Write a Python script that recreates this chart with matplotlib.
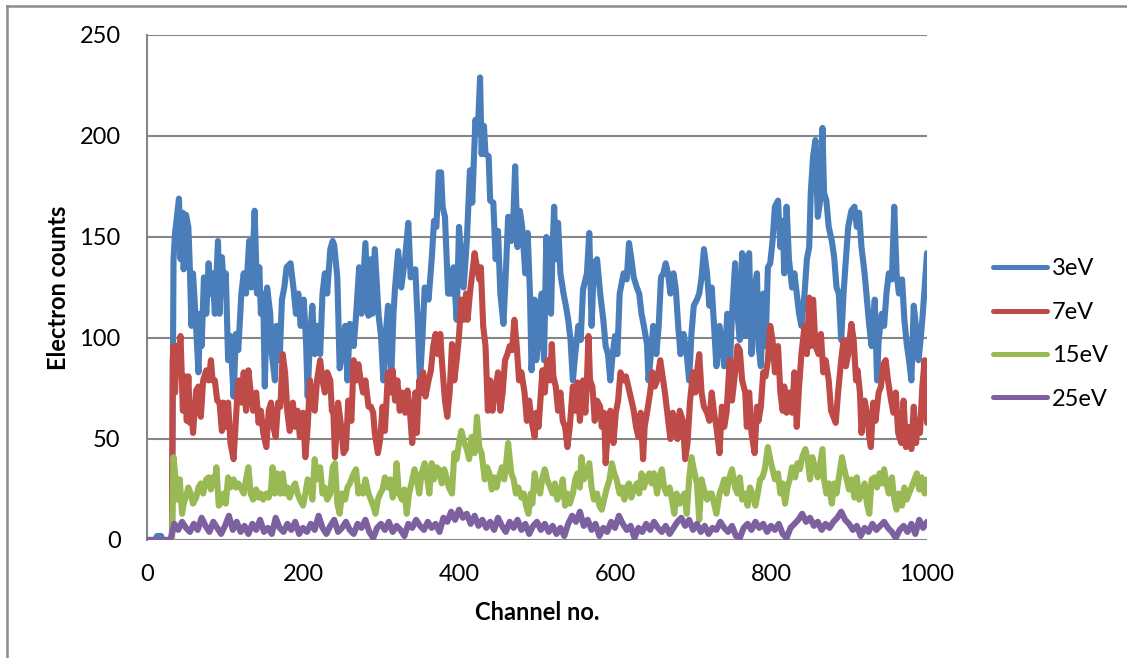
import numpy as np
import matplotlib
matplotlib.use("Agg")
import matplotlib.pyplot as plt
from matplotlib.lines import Line2D

# (channel, counts), one list per beam energy
ev3_points = [
    (0, 0), (10, 0), (13, 2), (18, 2), (20, 0), (32, 0), (34, 139), (36, 152), (41, 169), (43, 139),
    (46, 162), (47, 134), (50, 161), (53, 155), (55, 134), (57, 106), (59, 132), (62, 112), (66, 83), (68, 112),
    (70, 96), (73, 130), (76, 112), (79, 137), (82, 122), (84, 132), (87, 112), (91, 148), (93, 112), (96, 140),
    (99, 122), (101, 132), (104, 89), (107, 101), (111, 71), (114, 102), (117, 94), (121, 122), (124, 132), (127, 122),
    (131, 148), (134, 125), (138, 163), (141, 122), (144, 135), (146, 112), (149, 122), (151, 76), (154, 125), (158, 112),
    (160, 92), (164, 79), (166, 106), (170, 89), (173, 119), (176, 125), (179, 135), (184, 137), (188, 124), (191, 112),
    (194, 122), (197, 106), (201, 119), (204, 97), (206, 71), (209, 101), (212, 116), (215, 92), (218, 106), (222, 92),
    (225, 122), (228, 132), (231, 122), (235, 144), (238, 148), (240, 146), (244, 130), (247, 85), (250, 92), (254, 106),
    (257, 79), (260, 107), (265, 96), (268, 111), (272, 135), (275, 112), (280, 147), (284, 111), (287, 139), (289, 112),
    (292, 144), (297, 111), (300, 101), (303, 79), (306, 101), (309, 116), (313, 79), (316, 112), (318, 125), (322, 143),
    (326, 125), (331, 140), (335, 157), (338, 130), (344, 134), (347, 109), (350, 79), (353, 99), (356, 125), (361, 119),
    (365, 139), (368, 158), (371, 155), (374, 182), (377, 182), (379, 165), (382, 160), (386, 122), (390, 122), (393, 135),
    (397, 109), (400, 155), (403, 140), (406, 125), (410, 148), (414, 183), (417, 167), (421, 208), (424, 201), (427, 229),
    (429, 191), (432, 205), (434, 191), (438, 190), (440, 168), (444, 167), (447, 139), (450, 153), (453, 122), (457, 107),
    (460, 132), (463, 160), (467, 148), (470, 163), (472, 185), (475, 145), (478, 163), (481, 155), (485, 132), (488, 152),
    (491, 122), (493, 84), (497, 119), (499, 89), (502, 99), (506, 122), (509, 89), (512, 150), (515, 132), (518, 112),
    (520, 145), (522, 165), (524, 139), (527, 157), (530, 132), (534, 122), (537, 116), (540, 109), (543, 99), (546, 79),
    (549, 92), (553, 106), (556, 99), (559, 124), (564, 132), (567, 152), (570, 106), (573, 137), (577, 139), (581, 122),
    (585, 109), (588, 96), (591, 92), (594, 79), (597, 92), (600, 101), (603, 92), (606, 122), (611, 132), (615, 129),
    (618, 147), (621, 139), (624, 130), (628, 125), (631, 122), (634, 112), (637, 106), (641, 97), (643, 79), (646, 92),
    (649, 106), (653, 92), (656, 106), (659, 130), (662, 132), (665, 137), (668, 132), (671, 122), (675, 132), (678, 124),
    (681, 106), (684, 92), (688, 102), (692, 92), (695, 79), (698, 102), (701, 116), (705, 119), (708, 122), (711, 130),
    (714, 144), (718, 132), (721, 116), (724, 125), (727, 106), (730, 86), (734, 106), (737, 96), (740, 86), (744, 112),
    (747, 84), (750, 111), (754, 137), (757, 112), (760, 99), (763, 142), (767, 101), (769, 139), (772, 142), (775, 92),
    (779, 125), (782, 132), (784, 96), (787, 86), (790, 122), (793, 96), (796, 135), (799, 137), (802, 148), (805, 165),
    (809, 168), (812, 145), (815, 158), (817, 132), (820, 165), (823, 139), (827, 125), (830, 132), (833, 122), (836, 112),
    (839, 106), (843, 122), (846, 139), (849, 145), (851, 172), (854, 190), (857, 198), (860, 160), (863, 168), (866, 204),
    (868, 172), (871, 168), (874, 155), (878, 148), (881, 140), (884, 125), (887, 122), (890, 99), (893, 122), (896, 139),
    (899, 155), (903, 163), (907, 165), (910, 155), (913, 162), (916, 145), (920, 132), (923, 119), (926, 106), (929, 96),
    (933, 119), (936, 79), (938, 99), (942, 112), (945, 106), (948, 122), (951, 132), (955, 129), (958, 165), (961, 132),
    (964, 122), (968, 129), (971, 109), (974, 97), (977, 89), (980, 79), (983, 116), (985, 109), (989, 89), (991, 96),
    (994, 109), (997, 125), (1000, 142),
]

ev7_points = [
    (0, 0), (32, 0), (33, 89), (34, 96), (36, 73), (38, 96), (40, 89), (43, 101), (46, 64), (49, 81),
    (51, 59), (53, 81), (55, 58), (57, 66), (59, 53), (63, 74), (66, 76), (69, 61), (72, 79), (76, 84),
    (79, 79), (82, 89), (84, 79), (87, 79), (90, 69), (93, 68), (96, 54), (98, 68), (101, 56), (104, 68),
    (107, 48), (111, 40), (113, 53), (116, 73), (118, 79), (121, 68), (124, 83), (127, 64), (130, 84), (133, 73),
    (136, 64), (140, 73), (143, 58), (146, 64), (149, 53), (153, 46), (156, 64), (159, 68), (162, 56), (165, 51),
    (168, 68), (171, 66), (174, 92), (177, 83), (180, 63), (183, 54), (187, 68), (190, 56), (193, 64), (196, 51),
    (200, 63), (203, 41), (206, 56), (209, 79), (212, 68), (215, 64), (218, 79), (222, 89), (225, 79), (228, 73),
    (231, 83), (235, 79), (237, 64), (239, 63), (241, 41), (245, 68), (249, 56), (252, 43), (255, 45), (258, 69),
    (262, 59), (265, 89), (268, 79), (271, 87), (274, 79), (277, 73), (280, 79), (284, 66), (287, 66), (290, 63),
    (292, 53), (296, 43), (299, 50), (302, 66), (305, 54), (309, 83), (312, 73), (315, 84), (318, 69), (321, 79),
    (324, 64), (327, 73), (331, 63), (334, 74), (337, 64), (340, 48), (344, 73), (346, 53), (349, 79), (351, 73),
    (354, 83), (357, 71), (361, 79), (364, 84), (367, 96), (370, 102), (373, 92), (376, 102), (378, 89), (380, 79),
    (382, 69), (385, 61), (388, 73), (391, 97), (394, 79), (397, 89), (400, 101), (403, 119), (406, 109), (409, 122),
    (411, 109), (414, 122), (417, 132), (420, 142), (423, 135), (426, 129), (428, 135), (431, 106), (434, 96), (437, 64),
    (440, 79), (443, 64), (446, 73), (450, 83), (453, 64), (456, 73), (459, 89), (462, 92), (465, 96), (468, 94),
    (471, 109), (474, 96), (477, 79), (480, 83), (484, 73), (487, 59), (490, 69), (493, 59), (497, 51), (499, 63),
    (502, 56), (505, 73), (507, 84), (510, 73), (513, 89), (517, 79), (519, 97), (521, 81), (524, 76), (527, 64),
    (530, 73), (533, 59), (536, 56), (539, 46), (542, 56), (546, 76), (549, 64), (552, 78), (555, 59), (559, 79),
    (562, 63), (564, 79), (566, 101), (568, 79), (571, 76), (574, 59), (577, 69), (581, 66), (583, 56), (586, 63),
    (588, 38), (591, 56), (594, 64), (598, 48), (601, 63), (604, 69), (607, 83), (611, 79), (614, 81), (617, 76),
    (620, 71), (624, 64), (627, 56), (630, 51), (633, 63), (636, 40), (638, 56), (641, 63), (645, 73), (648, 83),
    (651, 76), (654, 79), (658, 89), (661, 81), (664, 73), (667, 63), (671, 50), (674, 63), (677, 59), (680, 50),
    (683, 64), (687, 59), (690, 40), (693, 48), (696, 68), (700, 83), (703, 73), (706, 86), (708, 92), (711, 73),
    (714, 66), (718, 63), (721, 59), (724, 73), (727, 63), (730, 56), (734, 43), (737, 66), (740, 56), (743, 63),
    (747, 89), (750, 69), (754, 83), (757, 96), (760, 94), (763, 79), (767, 73), (769, 56), (772, 73), (775, 53),
    (779, 43), (782, 66), (784, 59), (787, 66), (790, 83), (793, 81), (796, 89), (799, 106), (802, 99), (805, 83),
    (809, 96), (812, 73), (815, 64), (817, 76), (820, 63), (823, 73), (827, 63), (830, 83), (833, 56), (836, 76),
    (839, 92), (843, 106), (846, 92), (849, 120), (851, 96), (854, 119), (857, 96), (861, 92), (864, 102), (867, 83),
    (870, 89), (874, 79), (877, 64), (880, 61), (883, 58), (886, 73), (890, 89), (893, 99), (896, 86), (899, 92),
    (903, 107), (906, 99), (909, 79), (911, 84), (914, 73), (916, 53), (920, 69), (923, 63), (926, 51), (928, 46),
    (931, 68), (934, 59), (938, 73), (941, 76), (944, 87), (947, 89), (950, 79), (954, 69), (957, 63), (960, 73),
    (963, 53), (967, 48), (970, 69), (973, 46), (976, 56), (980, 45), (983, 66), (986, 48), (988, 59), (991, 53),
    (994, 76), (997, 89), (1000, 58),
]

ev15_points = [
    (0, 0), (32, 0), (34, 41), (36, 33), (39, 20), (42, 30), (45, 13), (47, 18), (51, 23), (53, 26),
    (56, 23), (59, 18), (63, 21), (66, 26), (69, 28), (72, 23), (76, 30), (79, 31), (82, 25), (84, 31),
    (87, 28), (89, 36), (92, 17), (94, 18), (98, 23), (101, 18), (104, 31), (107, 26), (111, 30), (114, 26),
    (117, 28), (120, 26), (124, 23), (127, 30), (130, 36), (133, 23), (136, 20), (140, 25), (143, 21), (146, 23),
    (149, 20), (153, 23), (156, 21), (159, 25), (161, 36), (164, 23), (167, 33), (171, 23), (174, 33), (177, 23),
    (180, 26), (183, 21), (187, 26), (190, 28), (193, 23), (196, 20), (200, 17), (203, 23), (206, 30), (209, 28),
    (212, 20), (215, 40), (218, 30), (222, 36), (225, 23), (228, 26), (231, 20), (235, 23), (238, 36), (241, 38),
    (244, 18), (247, 13), (250, 23), (254, 20), (257, 26), (260, 28), (265, 33), (268, 35), (271, 23), (274, 26),
    (277, 23), (280, 30), (284, 23), (287, 20), (290, 17), (293, 13), (296, 20), (299, 23), (302, 25), (305, 31),
    (309, 26), (312, 30), (315, 21), (318, 26), (320, 38), (323, 23), (327, 20), (330, 25), (333, 13), (336, 23),
    (339, 28), (343, 35), (346, 30), (349, 23), (352, 33), (356, 38), (359, 31), (362, 23), (365, 38), (368, 30),
    (371, 36), (374, 35), (378, 28), (381, 35), (384, 31), (387, 26), (391, 23), (394, 43), (397, 40), (400, 48),
    (403, 54), (407, 48), (410, 45), (413, 40), (416, 51), (420, 43), (423, 61), (426, 46), (429, 43), (433, 30),
    (436, 36), (439, 33), (442, 25), (445, 31), (448, 26), (451, 31), (455, 36), (458, 30), (461, 40), (463, 48),
    (467, 33), (470, 30), (473, 23), (476, 26), (480, 21), (483, 23), (486, 17), (489, 13), (492, 23), (494, 18),
    (497, 33), (500, 26), (504, 23), (507, 31), (510, 35), (513, 30), (517, 26), (520, 23), (523, 28), (526, 20),
    (530, 23), (533, 30), (536, 17), (539, 23), (542, 18), (546, 23), (549, 30), (552, 33), (555, 26), (557, 41),
    (560, 30), (564, 33), (567, 38), (570, 26), (573, 20), (577, 23), (580, 17), (583, 15), (586, 20), (589, 25),
    (593, 30), (596, 38), (599, 33), (602, 30), (606, 23), (609, 26), (612, 20), (615, 26), (618, 28), (621, 21),
    (624, 25), (628, 28), (631, 23), (634, 33), (637, 26), (641, 31), (644, 33), (647, 28), (650, 33), (654, 23),
    (657, 31), (660, 35), (663, 26), (666, 23), (670, 26), (673, 20), (676, 13), (679, 23), (683, 18), (686, 21),
    (689, 23), (692, 13), (695, 30), (698, 41), (701, 35), (705, 28), (708, 10), (711, 30), (714, 25), (718, 20),
    (721, 23), (724, 23), (727, 18), (730, 13), (734, 23), (737, 26), (740, 30), (743, 23), (746, 30), (750, 35),
    (754, 26), (757, 23), (760, 31), (763, 20), (767, 23), (770, 17), (773, 26), (776, 23), (780, 17), (783, 23),
    (786, 30), (789, 31), (792, 35), (796, 46), (799, 40), (802, 35), (805, 30), (809, 33), (812, 23), (815, 28),
    (818, 18), (821, 26), (824, 30), (827, 36), (831, 31), (834, 38), (837, 35), (840, 41), (844, 45), (847, 40),
    (850, 30), (853, 41), (856, 36), (860, 31), (863, 38), (866, 45), (868, 30), (871, 23), (874, 28), (878, 18),
    (881, 28), (884, 23), (887, 31), (891, 41), (894, 35), (897, 30), (900, 25), (903, 30), (907, 21), (910, 31),
    (913, 20), (916, 23), (920, 28), (923, 18), (926, 13), (929, 30), (933, 31), (936, 26), (939, 33), (942, 28),
    (945, 35), (948, 28), (951, 23), (955, 31), (958, 20), (961, 15), (964, 23), (968, 17), (971, 26), (974, 20),
    (977, 23), (980, 26), (984, 30), (987, 33), (990, 25), (993, 31), (997, 23), (1000, 30),
]

# 25eV counts every 5 channels, 0..1000
ev25_counts = [
    0, 0, 0, 0, 0, 0, 0, 8, 5, 9,
    6, 4, 8, 5, 11, 7, 4, 9, 6, 3,
    7, 12, 5, 9, 4, 7, 3, 8, 5, 10,
    4, 6, 3, 11, 6, 4, 8, 5, 9, 3,
    6, 4, 8, 5, 12, 6, 3, 7, 10, 4,
    6, 9, 5, 3, 8, 6, 10, 4, 1, 6,
    8, 5, 9, 4, 7, 5, 2, 8, 6, 10,
    7, 5, 9, 6, 8, 4, 11, 9, 14, 10,
    15, 11, 13, 8, 12, 7, 10, 6, 9, 5,
    11, 7, 4, 9, 6, 10, 5, 8, 3, 7,
    9, 5, 8, 4, 7, 3, 6, 2, 8, 12,
    9, 14, 7, 10, 5, 8, 2, 6, 4, 9,
    6, 12, 8, 5, 7, 1, 6, 4, 8, 5,
    9, 6, 4, 7, 3, 6, 9, 11, 7, 10,
    5, 8, 4, 7, 3, 6, 5, 9, 6, 4,
    7, 2, 1, 6, 8, 5, 9, 6, 8, 4,
    7, 5, 8, 3, 1, 6, 8, 10, 13, 9,
    11, 7, 9, 5, 8, 6, 9, 11, 14, 10,
    8, 5, 7, 2, 6, 4, 8, 5, 7, 9,
    6, 4, 1, 5, 7, 4, 8, 3, 10, 6,
    9,
]
ev25_channels = np.arange(0, 1001, 5)

series_labels = ["3eV", "7eV", "15eV", "25eV"]
series_colors = ["#4A7EBB", "#BE4B48", "#98B954", "#7D60A0"]
y_ticks = [0, 50, 100, 150, 200, 250]
x_ticks = [0, 200, 400, 600, 800, 1000]

plt.rcParams["font.family"] = ["Lato", "DejaVu Sans"]

W, H = 1127, 658
fig = plt.figure(figsize=(W / 100, H / 100), dpi=100)
ax = fig.add_axes([147 / W, 1 - 540 / H, 780 / W, 505 / H])

grid_color = "#868686"

series = [np.array(ev3_points).T, np.array(ev7_points).T, np.array(ev15_points).T,
          np.array([ev25_channels, ev25_counts])]
for (ch, counts), label, color in zip(series, series_labels, series_colors):
    ax.plot(ch, counts, color=color, lw=4.4, label=label,
            solid_joinstyle="round", solid_capstyle="round", zorder=3)

ax.set_xlim(0, 1000)
ax.set_ylim(0, 250)
ax.set_xticks(x_ticks)
ax.set_yticks(y_ticks)
ax.tick_params(axis="both", length=0, labelsize=17, colors="black")
ax.tick_params(axis="y", pad=19)
ax.tick_params(axis="x", pad=17)
ax.yaxis.grid(True, color=grid_color, lw=1.5)
ax.set_axisbelow(True)
for side in ["top", "right", "bottom"]:
    ax.spines[side].set_visible(False)
ax.spines["left"].set_color(grid_color)
ax.spines["left"].set_linewidth(1.5)

ax.set_xlabel("Channel no.", fontsize=17, fontweight="bold")
ax.set_ylabel("Electron counts", fontsize=17, fontweight="bold")
ax.xaxis.set_label_coords(0.5, (540 - 613) / 505)
ax.xaxis.label.set_verticalalignment("center")
ax.yaxis.set_label_coords((58 - 147) / 780, 0.5)
ax.yaxis.label.set_verticalalignment("center")

leg = ax.legend(loc="center left", bbox_to_anchor=(993 / W, 1 - 334 / H),
                bbox_transform=fig.transFigure, frameon=False, fontsize=17,
                handlelength=2.3, handletextpad=0.2, labelspacing=0.95,
                borderpad=0, borderaxespad=0)
for handle in leg.get_lines():
    handle.set_linewidth(3.6)

# chart-area frame (only top and left edges are visible in the crop)
fig.add_artist(Line2D([7 / W, 1], [1 - 6 / H, 1 - 6 / H], transform=fig.transFigure,
                      color="#8C8C8C", lw=1.8))
fig.add_artist(Line2D([7 / W, 7 / W], [0, 1 - 6 / H], transform=fig.transFigure,
                      color="#8C8C8C", lw=1.8))

fig.savefig("out.png", dpi=100)
